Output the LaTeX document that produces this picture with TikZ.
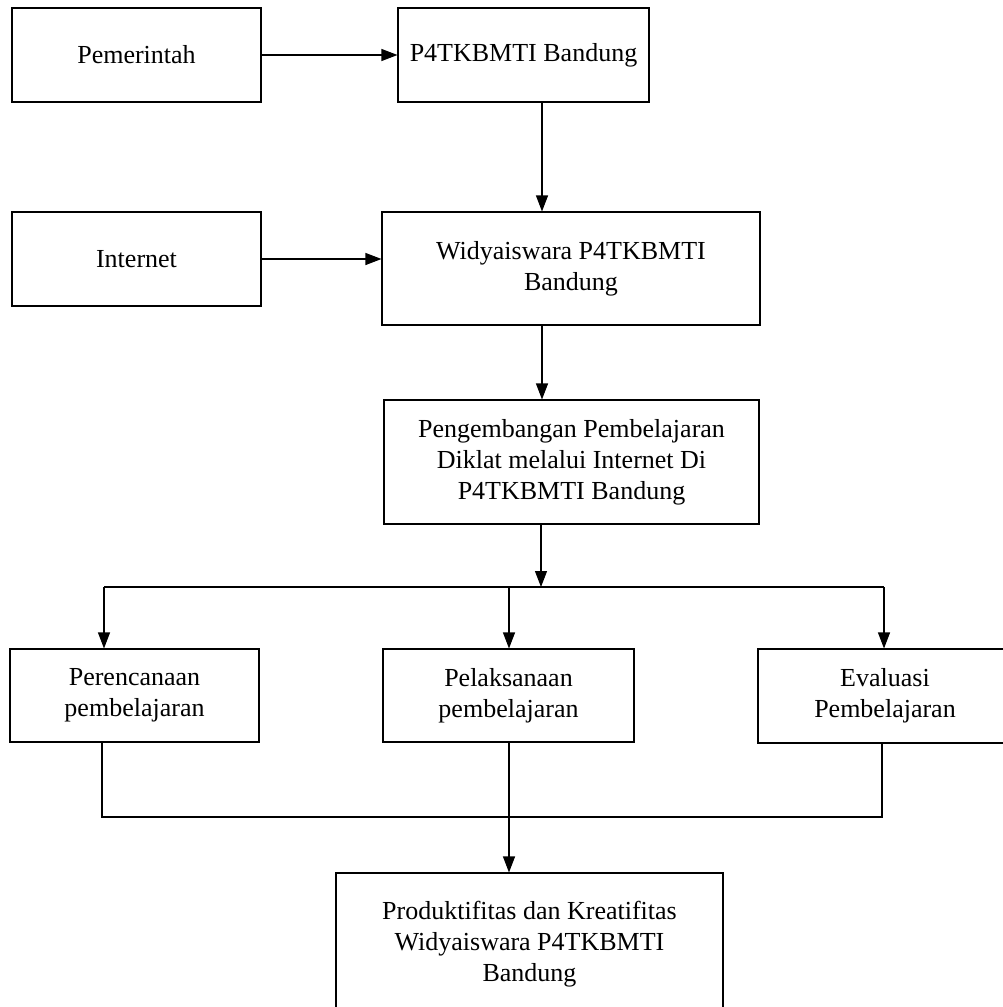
\documentclass[tikz,border=0pt]{standalone}
\usepackage{fontspec}
\setmainfont{Liberation Serif}
\usetikzlibrary{arrows.meta}
\begin{document}
\begin{tikzpicture}[x=1pt,y=-1pt,
  box/.style={draw,line width=1.1pt,inner sep=0pt,align=center,
    font=\fontsize{26}{31}\selectfont},
  conn/.style={line width=1.1pt},
  arr/.style={conn,-{Triangle[length=16pt,width=12pt]}}]
\useasboundingbox (0,0) rectangle (1003,1007);
\clip (0,0) rectangle (1003,1007);
\fill[white] (0,0) rectangle (1003,1007);
\node[box,minimum width=249pt,minimum height=94pt] (pem) at (136.5,55) {Pemerintah};
\node[box,minimum width=251pt,minimum height=94pt] (p4) at (523.5,55) {P4TKBMTI Bandung};
\node[box,minimum width=249pt,minimum height=94pt] (inet) at (136.5,259) {Internet};
\node[box,minimum width=378pt,minimum height=113pt] (widya) at (571,268.5) {Widyaiswara P4TKBMTI\\Bandung};
\node[box,minimum width=375pt,minimum height=124pt] (peng) at (571.5,462) {Pengembangan Pembelajaran\\Diklat melalui Internet Di\\P4TKBMTI Bandung};
\node[box,minimum width=249pt,minimum height=93pt] (pere) at (134.5,695.5) {Perencanaan\\pembelajaran};
\node[box,minimum width=251pt,minimum height=93pt] (pela) at (508.5,695.5) {Pelaksanaan\\pembelajaran};
\node[box,minimum width=254pt,minimum height=94pt] (eval) at (885,696) {Evaluasi\\Pembelajaran};
\node[box,minimum width=387pt,minimum height=142pt] (prod) at (529.5,944) {Produktifitas dan Kreatifitas\\Widyaiswara P4TKBMTI\\Bandung};
\coordinate (xa) at (542,0);
\coordinate (xb) at (541,0);
\coordinate (bus) at (0,587);
\coordinate (xl) at (104,0);
\coordinate (xm) at (509,0);
\coordinate (xr) at (884,0);
\coordinate (low) at (0,817);
\draw[arr] (pem.east) -- (p4.west);
\draw[arr] (inet.east) -- (inet.east -| widya.west);
\draw[arr] (p4.south -| xa) -- (widya.north -| xa);
\draw[arr] (widya.south -| xa) -- (peng.north -| xa);
\draw[arr] (peng.south -| xb) -- (bus -| xb);
\draw[conn] (bus -| xl) -- (bus -| xr);
\draw[arr] (bus -| xl) -- (pere.north -| xl);
\draw[arr] (bus -| xm) -- (pela.north -| xm);
\draw[arr] (bus -| xr) -- (eval.north -| xr);
\draw[conn] ([xshift=-32.5pt]pere.south) -- ([xshift=-32.5pt]pere.south |- low) -- ([xshift=-2pt]low -| xr) -- ([xshift=-2pt]eval.south -| xr);
\draw[arr] (pela.south -| xm) -- (prod.north -| xm);
\end{tikzpicture}
\end{document}
